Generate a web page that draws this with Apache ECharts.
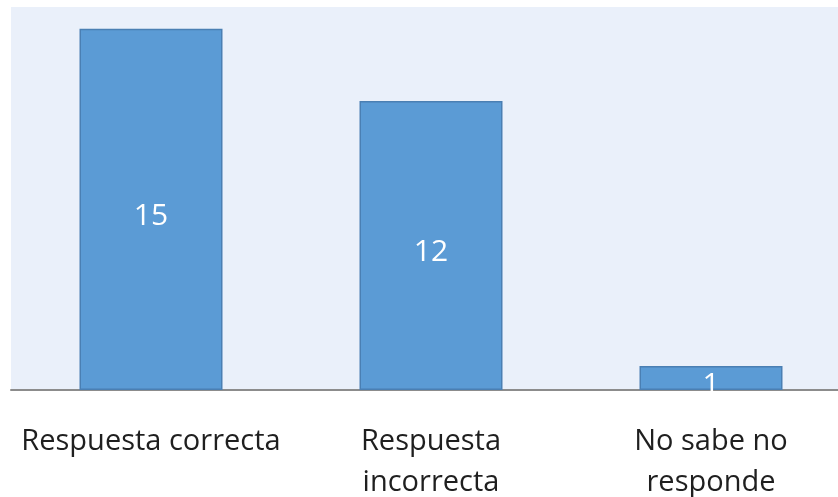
<!DOCTYPE html>
<html><head><meta charset="utf-8">
<script src="https://cdn.jsdelivr.net/npm/echarts@6/dist/echarts.min.js"></script>
<style>html,body{margin:0;padding:0;background:#fff;}#c{width:838px;height:497px;}</style>
</head><body><div id="c"></div>
<script>
const categories = ["Respuesta correcta", "Respuesta\nincorrecta", "No sabe no\nresponde"];
const values = [15, 12, 1];
const chart = echarts.init(document.getElementById('c'));
chart.setOption({
  animation: false,
  backgroundColor: '#ffffff',
  grid: { left: 11, width: 840, top: 7, height: 383, show: true, backgroundColor: '#eaf0fa', borderWidth: 0, containLabel: false, outerBoundsMode: 'none' },
  xAxis: {
    type: 'category', data: categories,
    axisLine: { show: true, lineStyle: { color: '#8c8c8c', width: 2 } },
    axisTick: { show: false },
    axisLabel: { color: '#1f1f1f', fontFamily: 'Open Sans', fontSize: 29, lineHeight: 41, margin: 31, interval: 0, hideOverlap: false }
  },
  yAxis: { type: 'value', min: 0, max: 15.9, show: false, splitLine: { show: false } },
  series: [{
    type: 'bar', data: values, barWidth: 143,
    itemStyle: { color: '#5b9bd5', borderColor: '#4a7fb3', borderWidth: 1.5 },
    label: { show: true, position: 'inside', color: '#ffffff', fontFamily: 'Open Sans', fontSize: 30, offset: [0, 7] }
  }]
});
</script></body></html>
